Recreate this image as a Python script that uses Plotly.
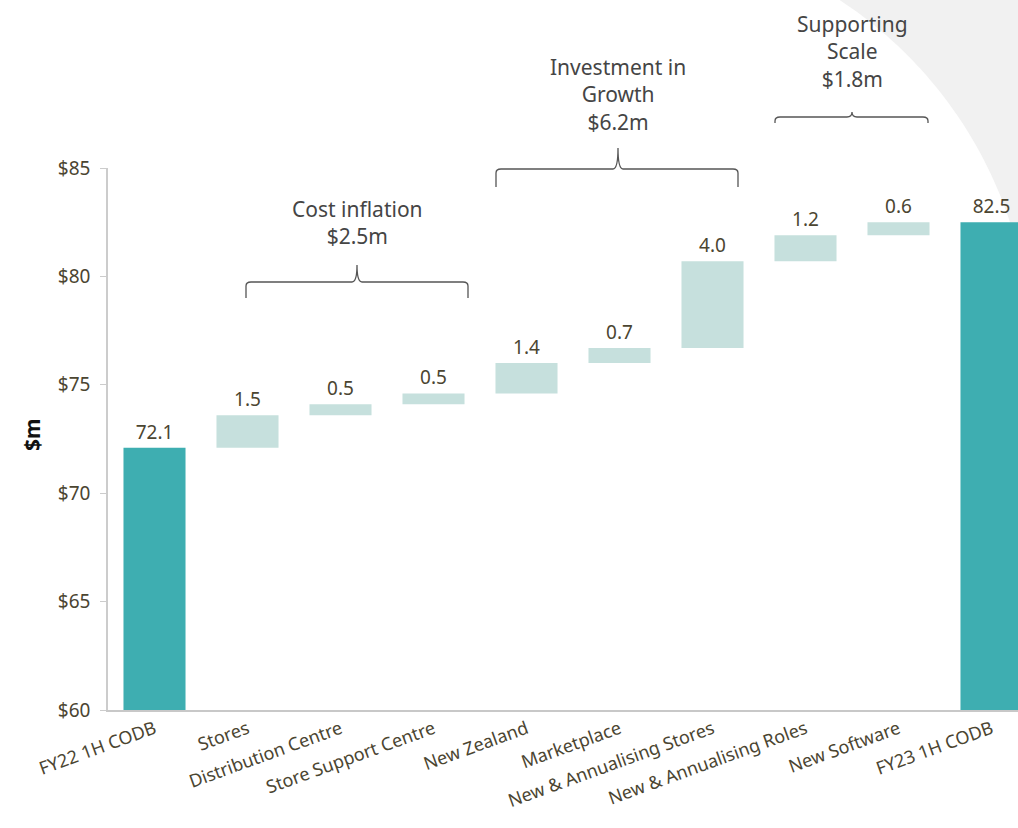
import numpy as np
import plotly.graph_objects as go

# ---------------- data ----------------
categories = ["FY22 1H CODB", "Stores", "Distribution Centre", "Store Support Centre",
              "New Zealand", "Marketplace", "New & Annualising Stores",
              "New & Annualising Roles", "New Software", "FY23 1H CODB"]
start_total = 72.1
end_total = 82.5
deltas = [1.5, 0.5, 0.5, 1.4, 0.7, 4.0, 1.2, 0.6]
delta_labels = ["1.5", "0.5", "0.5", "1.4", "0.7", "4.0", "1.2", "0.6"]
y_ticks = [60, 65, 70, 75, 80, 85]
y_tick_labels = ["$60", "$65", "$70", "$75", "$80", "$85"]

groups = [
    {"text": "Cost inflation<br>$2.5m", "first": 1, "last": 3},
    {"text": "Investment in<br>Growth<br>$6.2m", "first": 4, "last": 6},
    {"text": "Supporting<br>Scale<br>$1.8m", "first": 7, "last": 8},
]

# ---------------- styles ----------------
TEAL = "#3EAEB1"
LIGHT = "#C6E0DD"
TXT = "#4B4531"
GREY_TXT = "#454545"
FONT = "Noto Sans"
AXIS_MIN, AXIS_MAX = 60, 85

W, H = 1018, 828
L, R, T, B = 108, 0, 168, 118
pw, ph = W - L - R, H - T - B

xpos = np.arange(len(categories))
mid_x = xpos[1:-1]
bases = start_total + np.concatenate([[0], np.cumsum(deltas)[:-1]])

fig = go.Figure()

# totals
fig.add_trace(go.Bar(
    x=[xpos[0], xpos[-1]], y=[start_total - AXIS_MIN, end_total - AXIS_MIN], base=AXIS_MIN,
    marker=dict(color=TEAL, line=dict(width=0)), width=0.667,
    text=[f"{start_total:.1f}", f"{end_total:.1f}"], textposition="outside",
    textfont=dict(size=19, color=TXT, family=FONT), cliponaxis=False,
    hoverinfo="skip", showlegend=False))

# thin baseline stubs under the intermediate categories
fig.add_trace(go.Bar(
    x=mid_x, y=[0.09] * len(mid_x), base=AXIS_MIN - 0.09,
    marker=dict(color=TEAL, line=dict(width=0)), width=0.667, cliponaxis=False,
    hoverinfo="skip", showlegend=False))

# floating deltas
fig.add_trace(go.Bar(
    x=mid_x, y=deltas, base=bases,
    marker=dict(color=LIGHT, line=dict(width=0)), width=0.667,
    text=delta_labels, textposition="outside",
    textfont=dict(size=19, color=TXT, family=FONT), cliponaxis=False,
    hoverinfo="skip", showlegend=False))

x_lo = -0.5
cat_px = 93.0
x_hi = x_lo + pw / cat_px


def py2paper(py):
    return (H - B - py) / ph


def px2x(px):
    return x_lo + (px - L) / cat_px


shapes = []

# background decoration (grey arc top-right)
cx, cy, r = 608.0, 354.0, 423.0
pts = []
a0 = np.arcsin((0 - cy) / r)
a1 = np.arcsin(-np.sqrt(r**2 - (W - cx)**2) / r)
for a in np.linspace(a0, a1, 60):
    px = cx + r * np.cos(a)
    py = cy + r * np.sin(a)
    pts.append(((px - L) / pw, py2paper(py)))
path = "M " + " L ".join(f"{x:.4f},{y:.4f}" for x, y in pts)
path += f" L {(W - L) / pw:.4f},{py2paper(0):.4f} Z"
shapes.append(dict(type="path", xref="paper", yref="paper", path=path,
                   fillcolor="#F1F1F1", line=dict(width=0), layer="below"))

# brackets
bracket_geo = [
    # left_px, right_px, mid_px, line_py, end_py, top_py
    (246, 468, 357, 282, 298, 265),
    (496, 738, 618, 169, 187, 148),
    (775, 928, 852, 117, 123, 112),
]
text_centers = [222, 94.5, 51.5]
annotations = []
for g, (lp, rp, mp, lpy, epy, tpy), tcy in zip(groups, bracket_geo, text_centers):
    Lx, Rx, Mx = px2x(lp), px2x(rp), px2x(mp)
    yl, ye, yt = py2paper(lpy), py2paper(epy), py2paper(tpy)
    dx = 5 / cat_px
    dy = 4 / ph
    p = (f"M {Lx},{ye} L {Lx},{yl - dy} Q {Lx},{yl} {Lx + dx},{yl} "
         f"L {Mx - dx},{yl} Q {Mx},{yl} {Mx},{yt} Q {Mx},{yl} {Mx + dx},{yl} "
         f"L {Rx - dx},{yl} Q {Rx},{yl} {Rx},{yl - dy} L {Rx},{ye}")
    shapes.append(dict(type="path", xref="x", yref="paper", path=p,
                       line=dict(color="#555555", width=1.3), layer="above"))
    annotations.append(dict(x=Mx, y=py2paper(tcy), xref="x", yref="paper",
                            text=g["text"], showarrow=False, xanchor="center",
                            yanchor="middle", align="center",
                            font=dict(size=21, color=GREY_TXT, family=FONT)))

# y-axis title
annotations.append(dict(x=(32 - L) / pw, y=py2paper(435), xref="paper", yref="paper",
                        text="<b>$m</b>", showarrow=False, textangle=-90,
                        xanchor="center", yanchor="middle",
                        font=dict(size=21, color="#111111", family=FONT)))

fig.update_layout(
    width=W, height=H,
    margin=dict(l=L, r=R, t=T, b=B, pad=0),
    paper_bgcolor="white", plot_bgcolor="rgba(0,0,0,0)",
    barmode="overlay", bargap=0.33,
    font=dict(family=FONT, color=TXT),
    shapes=shapes, annotations=annotations,
    xaxis=dict(range=[x_lo, x_hi], tickvals=xpos, ticktext=categories,
               tickangle=-20, tickfont=dict(size=18, color=TXT, family=FONT),
               showgrid=False, zeroline=False, showline=True, linecolor="#C8C8C8",
               linewidth=1.5, ticks="", fixedrange=True),
    yaxis=dict(range=[AXIS_MIN, AXIS_MAX], tickvals=y_ticks, ticktext=y_tick_labels,
               tickfont=dict(size=19, color=TXT, family=FONT),
               showgrid=False, zeroline=False, showline=True, linecolor="#CCCCCC",
               linewidth=1.5, ticks="outside", ticklen=6, tickcolor="#CCCCCC",
               ticklabelstandoff=6, fixedrange=True),
)

fig.write_html("out.html")
